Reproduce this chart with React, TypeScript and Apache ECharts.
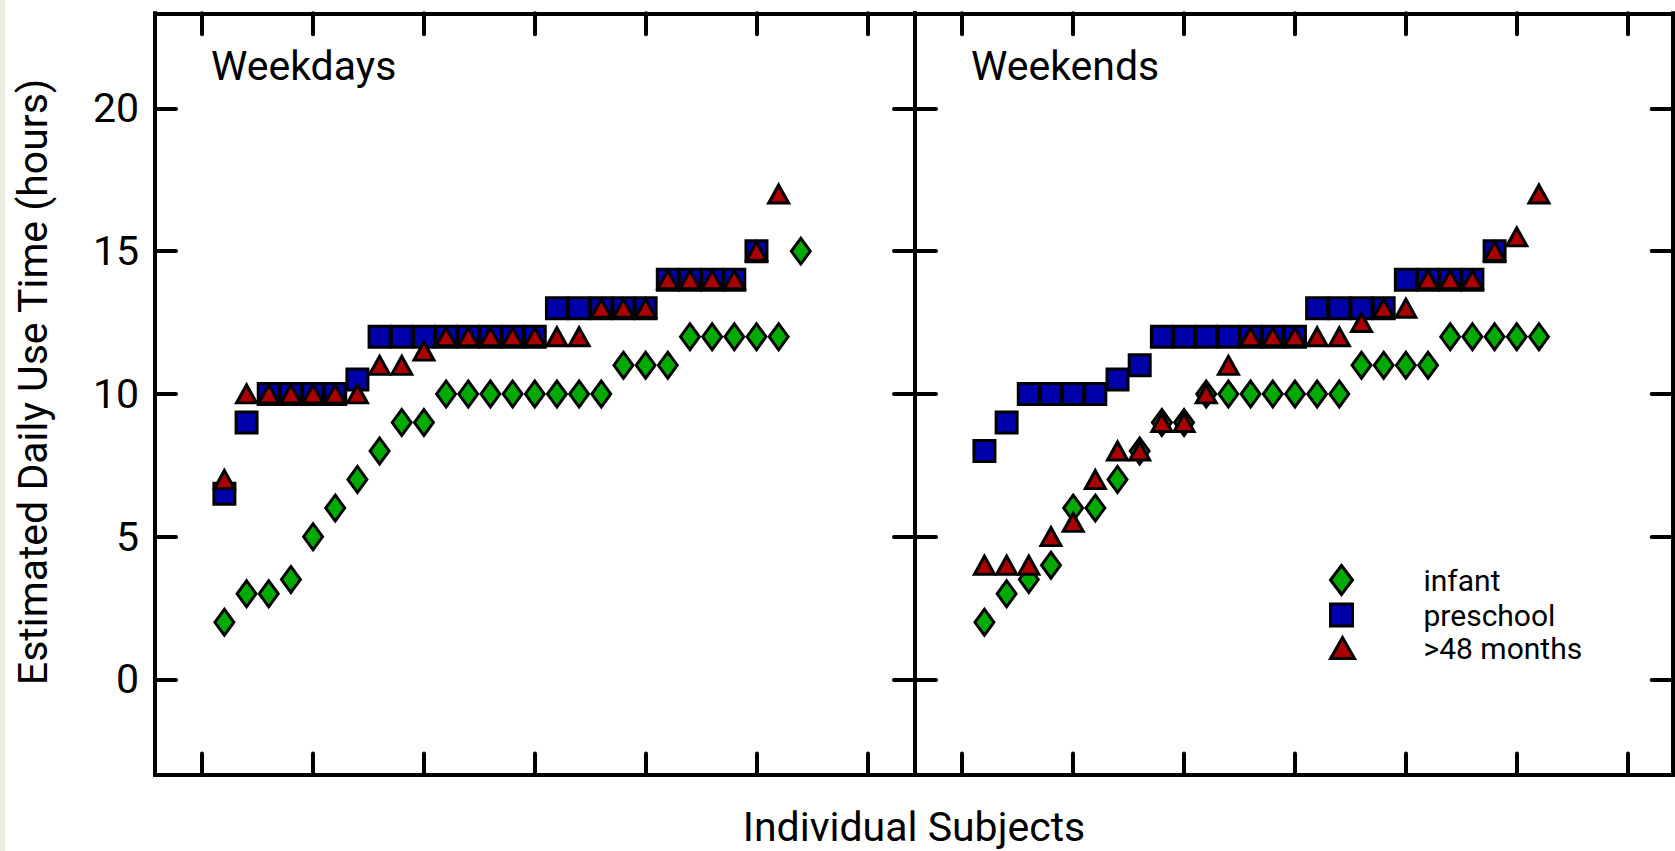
import { useEffect, useRef } from 'react';
import * as echarts from 'echarts';

// Estimated daily use time (hours) per subject, sorted within each group
const weekdayInfant = [2, 3, 3, 3.5, 5, 6, 7, 8, 9, 9, 10, 10, 10, 10, 10, 10, 10, 10, 11, 11, 11, 12, 12, 12, 12, 12, 15];
const weekdayPreschool = [6.5, 9, 10, 10, 10, 10, 10.5, 12, 12, 12, 12, 12, 12, 12, 12, 13, 13, 13, 13, 13, 14, 14, 14, 14, 15];
const weekdayOver48 = [7, 10, 10, 10, 10, 10, 10, 11, 11, 11.5, 12, 12, 12, 12, 12, 12, 12, 13, 13, 13, 14, 14, 14, 14, 15, 17];

const weekendInfant = [2, 3, 3.5, 4, 6, 6, 7, 8, 9, 9, 10, 10, 10, 10, 10, 10, 10, 11, 11, 11, 11, 12, 12, 12, 12, 12];
const weekendPreschool = [8, 9, 10, 10, 10, 10, 10.5, 11, 12, 12, 12, 12, 12, 12, 12, 13, 13, 13, 13, 14, 14, 14, 14, 15];
const weekendOver48 = [4, 4, 4, 5, 5.5, 7, 8, 8, 9, 9, 10, 11, 12, 12, 12, 12, 12, 12.5, 13, 13, 14, 14, 14, 15, 15.5, 17];

const groupNames = ['infant', 'preschool', '>48 months'];
const panelTitles = ['Weekdays', 'Weekends'];
const subjectTicks = [0, 5, 10, 15, 20, 25, 30];
const hourTicks = [0, 5, 10, 15, 20];
const xTitle = 'Individual Subjects';
const yTitle = 'Estimated Daily Use Time (hours)';

const FONT = 'Roboto, "DejaVu Sans", sans-serif';
const X_MIN = -2.13;
const X_MAX = [32.15, 32.03];
const Y_MIN = -3.33;
const Y_MAX = 23.33;

const groupStyles = [
  { symbol: 'diamond', size: [19, 26], color: '#00aa00', legendSize: [22, 29], legendTop: 564, pad: 66 },
  { symbol: 'rect', size: [21, 21], color: '#0000aa', legendSize: [22, 22], legendTop: 600, pad: 66 },
  { symbol: 'triangle', size: [20, 18], color: '#aa0000', legendSize: [24, 21], legendTop: 633, pad: 64 },
];

const frameLine = { color: '#000', width: 4, cap: 'square' as const };
const tickLine = { color: '#000', width: 4, cap: 'round' as const };

const toPoints = (values: number[]) => values.map((v, i) => [i + 1, v]);

function makeXAxis(g: number, position: 'top' | 'bottom') {
  return {
    type: 'value',
    gridIndex: g,
    position,
    min: X_MIN,
    max: X_MAX[g],
    axisLine: { show: true, onZero: false, lineStyle: frameLine },
    axisTick: { show: true, inside: true, length: 21, customValues: subjectTicks, lineStyle: tickLine },
    axisLabel: { show: false },
    splitLine: { show: false },
  };
}

function makeYAxis(g: number, position: 'left' | 'right', withLabels: boolean) {
  return {
    type: 'value',
    gridIndex: g,
    position,
    min: Y_MIN,
    max: Y_MAX,
    axisLine: { show: true, onZero: false, lineStyle: frameLine },
    axisTick: { show: true, inside: true, length: 21, customValues: hourTicks, lineStyle: tickLine },
    axisLabel: withLabels
      ? { show: true, customValues: hourTicks, margin: 16, fontSize: 41, fontFamily: FONT, color: '#000' }
      : { show: false },
    splitLine: { show: false },
  };
}

export default function App() {
  const ref = useRef<HTMLDivElement>(null);

  useEffect(() => {
    if (!ref.current) return;
    const chart = echarts.init(ref.current, null, { renderer: 'svg' });

    const panels = [
      [weekdayInfant, weekdayPreschool, weekdayOver48],
      [weekendInfant, weekendPreschool, weekendOver48],
    ];

    const series: any[] = [];
    panels.forEach((groups, g) => {
      groups.forEach((values, k) => {
        const st = groupStyles[k];
        series.push({
          type: 'scatter',
          name: groupNames[k],
          xAxisIndex: g * 2,
          yAxisIndex: g * 2,
          data: toPoints(values),
          symbol: st.symbol,
          symbolSize: st.size,
          itemStyle: {
            color: st.color,
            borderColor: '#000',
            borderWidth: 3,
            borderJoin: 'miter',
            borderMiterLimit: 10,
            opacity: 1,
          },
          emphasis: { disabled: true },
          z: 2 + k,
        });
      });
    });

    const legends = groupNames.map((name, k) => {
      const st = groupStyles[k];
      return {
        data: [name],
        left: 1329,
        top: st.legendTop,
        padding: 0,
        itemWidth: st.legendSize[0],
        itemHeight: st.legendSize[1],
        symbolKeepAspect: false,
        selectedMode: false,
        itemStyle: { borderColor: '#000', borderWidth: 3, borderJoin: 'miter' },
        textStyle: {
          fontFamily: FONT,
          fontSize: 30,
          color: '#000',
          lineHeight: 18,
          padding: [0, 0, 0, st.pad],
        },
      };
    });

    chart.setOption({
      animation: false,
      backgroundColor: '#ffffff',
      grid: [
        { left: 155, top: 13.3, width: 760, height: 761.2 },
        { left: 915, top: 13.3, width: 757.7, height: 761.2 },
      ],
      xAxis: [makeXAxis(0, 'bottom'), makeXAxis(0, 'top'), makeXAxis(1, 'bottom'), makeXAxis(1, 'top')],
      yAxis: [makeYAxis(0, 'left', true), makeYAxis(0, 'right', false), makeYAxis(1, 'left', false), makeYAxis(1, 'right', false)],
      legend: legends,
      series,
      graphic: [
        { type: 'rect', shape: { x: 0, y: 0, width: 5, height: 851 }, style: { fill: '#edece3' }, z: -10 },
        {
          type: 'text', x: 211, y: 66,
          style: { text: panelTitles[0], fontSize: 41, fontFamily: FONT, fill: '#000', align: 'left', verticalAlign: 'middle' },
        },
        {
          type: 'text', x: 971, y: 66,
          style: { text: panelTitles[1], fontSize: 41, fontFamily: FONT, fill: '#000', align: 'left', verticalAlign: 'middle' },
        },
        {
          type: 'text', x: 914, y: 827,
          style: { text: xTitle, fontSize: 41, fontFamily: FONT, fill: '#000', align: 'center', verticalAlign: 'middle' },
        },
        {
          type: 'text', x: 33, y: 382, rotation: Math.PI / 2,
          style: { text: yTitle, fontSize: 41, fontFamily: FONT, fill: '#000', align: 'center', verticalAlign: 'middle' },
        },
      ],
    });

    return () => chart.dispose();
  }, []);

  return (
    <div style={{ position: 'fixed', left: 0, top: 0, width: 1675, height: 851, background: '#fff' }}>
      <div ref={ref} style={{ width: 1675, height: 851 }} />
    </div>
  );
}
